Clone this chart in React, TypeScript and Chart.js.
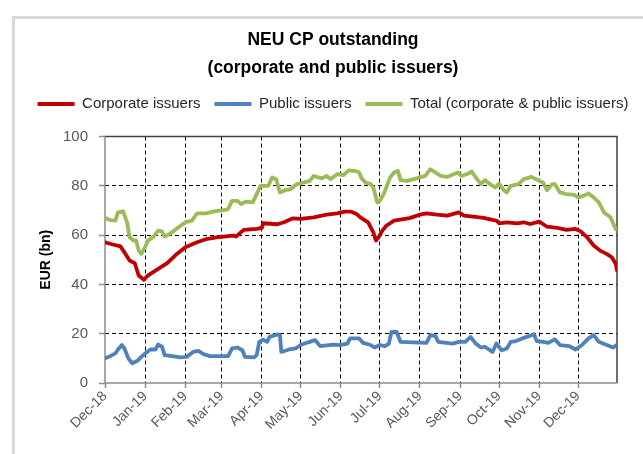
import React, { useEffect, useRef } from "react";
import { Chart, registerables } from "chart.js";

Chart.register(...registerables);

// Day offsets from 1 Dec 2018 for the month ticks
const monthDays = [0, 31, 62, 90, 121, 151, 182, 212, 243, 274, 304, 335, 365];
const monthLabels = [
  "Dec-18", "Jan-19", "Feb-19", "Mar-19", "Apr-19", "May-19", "Jun-19",
  "Jul-19", "Aug-19", "Sep-19", "Oct-19", "Nov-19", "Dec-19",
];
const lastDay = 395;
const yTickValues = [0, 20, 40, 60, 80, 100];

const titleLines = ["NEU CP outstanding", "(corporate and public issuers)"];
const seriesNames = ["Corporate issuers", "Public issuers", "Total (corporate & public issuers)"];
const seriesColors = ["#c00000", "#4f81bd", "#9bbb59"];

// [day offset, EUR bn]
const corporate: [number, number][] = [
  [0, 57.1], [6, 56.2], [12, 55.4], [15, 53], [19, 49.7], [23, 48.6], [26, 43.6], [30, 41.9], [33, 43.6], [41, 46.3],
  [48, 48.6], [54, 51.7], [62, 55.1], [71, 57.1], [79, 58.5], [86, 59.1], [99, 59.8], [101, 59.4], [107, 62.1], [117, 62.5],
  [121, 62.9], [122, 64.8], [133, 64.4], [138, 65.2], [145, 66.8], [151, 66.6], [161, 67.2], [171, 68.3], [179, 68.8], [185, 69.5],
  [190, 69.5], [194, 68.6], [197, 67.2], [203, 65.2], [207, 61.1], [209, 57.8], [211, 59.1], [214, 61.8], [217, 63.8], [223, 65.9],
  [235, 66.9], [243, 68.3], [248, 68.8], [256, 68.3], [264, 67.9], [273, 69.2], [277, 67.9], [284, 67.5], [292, 67], [300, 66.1],
  [302, 65.9], [304, 64.8], [310, 65.2], [318, 64.8], [323, 65.2], [328, 64.5], [335, 65.5], [341, 63.4], [349, 62.9], [356, 62.1],
  [363, 62.5], [367, 61.5], [372, 59.1], [377, 55.8], [382, 53.7], [387, 52.4], [391, 51], [394, 48.4], [395, 45.7],
];

const publicIssuers: [number, number][] = [
  [0, 10], [4, 10.9], [8, 12], [10, 13.6], [13, 15.4], [15, 14], [18, 10], [21, 8], [25, 9], [28, 10.6],
  [31, 12], [35, 13.6], [39, 13.6], [41, 15.6], [44, 14.7], [46, 11.3], [52, 10.9], [58, 10.4], [63, 10.6], [68, 12.6],
  [72, 13], [76, 11.7], [81, 10.9], [95, 10.9], [98, 14], [102, 14.4], [106, 13.3], [108, 10.6], [115, 10.4], [117, 11.3],
  [119, 16.7], [122, 17.6], [125, 16.7], [127, 18.7], [133, 19.7], [135, 19.4], [136, 12.6], [142, 13.6], [147, 14], [151, 15.4],
  [154, 16], [158, 16.7], [162, 17.4], [166, 15], [176, 15.6], [181, 15.4], [187, 16], [189, 18.1], [196, 18.1], [199, 16.3],
  [205, 15.4], [208, 14.4], [212, 15.4], [216, 15], [219, 16], [221, 20.7], [225, 20.7], [228, 16.7], [248, 16.3], [251, 19.4],
  [255, 19], [257, 16.7], [268, 16], [273, 16.7], [278, 16.7], [282, 18.7], [286, 16], [290, 14.4], [293, 14.7], [299, 12.6],
  [302, 16], [306, 13.3], [310, 14], [313, 16.7], [317, 17], [322, 18.1], [327, 19], [331, 19.8], [333, 17], [338, 16.7],
  [342, 16.3], [347, 17.7], [351, 15.4], [358, 15], [363, 13.6], [368, 15.4], [373, 18.1], [377, 19.4], [381, 16.7], [389, 15],
  [392, 14.4], [395, 15.5],
];

const total: [number, number][] = [
  [0, 66.9], [4, 66.1], [8, 65.9], [10, 69.2], [14, 69.6], [17, 65.2], [19, 59.1], [22, 57.8], [24, 57.8], [26, 53.7],
  [28, 52.4], [31, 55.1], [33, 57.8], [37, 59.1], [41, 61.8], [44, 61.5], [46, 59.4], [50, 60.5], [55, 62.5], [62, 65.2],
  [67, 65.9], [71, 68.8], [78, 68.8], [84, 69.6], [93, 70.2], [95, 70.6], [98, 73.9], [102, 73.9], [105, 72.6], [109, 73.6],
  [114, 73.3], [117, 76.6], [120, 80], [126, 80], [129, 83.4], [132, 82.7], [135, 77.3], [139, 78.2], [143, 78.6], [148, 80.7],
  [153, 81.3], [158, 82], [161, 84], [167, 83], [171, 84], [174, 82.7], [179, 84.7], [184, 84.3], [188, 86.3], [193, 86],
  [196, 85.5], [198, 83], [201, 81.3], [205, 80.7], [207, 79.3], [210, 73.3], [212, 73.9], [215, 76.6], [217, 79.3], [220, 83.4],
  [223, 85.4], [226, 86.1], [228, 82.3], [233, 82], [241, 83.1], [247, 84], [251, 86.7], [255, 85.4], [259, 84], [264, 83.6],
  [272, 85.4], [275, 84], [279, 84.7], [283, 85.8], [286, 83.4], [290, 80.7], [293, 82.3], [297, 80.7], [301, 79.3], [304, 80.9],
  [308, 78], [310, 77.3], [313, 80], [319, 80.7], [323, 82.7], [329, 83.6], [335, 82], [338, 81.3], [341, 78.2], [345, 80.7],
  [347, 80.7], [351, 77.3], [356, 76.6], [362, 76.3], [365, 75.3], [369, 75.9], [373, 76.9], [377, 75.3], [381, 73.3], [385, 69.2],
  [390, 67.2], [394, 62.5],
];

const FONT = "'Liberation Sans', Arial, sans-serif";
const TRANSPARENT = "rgba(0,0,0,0)";

export default function App() {
  const canvasRef = useRef<HTMLCanvasElement | null>(null);

  useEffect(() => {
    const canvas = canvasRef.current;
    if (!canvas) return;
    const toPoints = (arr: [number, number][]) => arr.map(([x, y]) => ({ x, y }));
    const allSeries = [corporate, publicIssuers, total];

    const plotFrame = {
      id: "plotFrame",
      beforeDatasetsDraw(chart: any) {
        const { ctx, chartArea } = chart;
        const { left, right, top, bottom } = chartArea;
        ctx.save();
        ctx.lineWidth = 1.5;
        ctx.strokeStyle = "#404040";
        ctx.beginPath();
        ctx.moveTo(left, top);
        ctx.lineTo(right, top);
        ctx.lineTo(right, bottom);
        ctx.stroke();
        ctx.strokeStyle = "#8c8c8c";
        ctx.beginPath();
        ctx.moveTo(left, top);
        ctx.lineTo(left, bottom);
        ctx.lineTo(right, bottom);
        ctx.stroke();
        ctx.restore();
      },
    };

    const chart = new Chart(canvas, {
      type: "line",
      data: {
        datasets: allSeries.map((s, i) => ({
          label: seriesNames[i],
          data: toPoints(s),
          borderColor: seriesColors[i],
          backgroundColor: seriesColors[i],
          borderWidth: 3.8,
          pointRadius: 0,
          tension: 0,
          fill: false,
          borderJoinStyle: "round",
          borderCapStyle: "round",
          xAxisID: "x",
          yAxisID: "y",
        })),
      },
      options: {
        animation: false,
        responsive: false,
        events: [],
        layout: { padding: { left: 23, right: 0, top: 0, bottom: 0 } },
        plugins: {
          title: {
            display: true,
            text: titleLines,
            color: "#000",
            font: { family: FONT, size: 17.5, weight: "bold", lineHeight: 1.6 },
            padding: { top: 26, bottom: 0.5 },
          },
          legend: {
            display: true,
            position: "top",
            labels: {
              boxWidth: 37,
              boxHeight: 4,
              padding: 14,
              color: "#262626",
              font: { family: FONT, size: 15 },
              generateLabels: (c: any) =>
                c.data.datasets.map((d: any, i: number) => ({
                  text: d.label,
                  fillStyle: seriesColors[i],
                  strokeStyle: seriesColors[i],
                  lineWidth: 0,
                  hidden: false,
                  datasetIndex: i,
                  fontColor: "#262626",
                })),
            },
          },
          tooltip: { enabled: false },
        },
        scales: {
          x: {
            type: "linear",
            position: "bottom",
            min: 0,
            max: lastDay,
            afterBuildTicks: (s: any) => {
              s.ticks = monthDays.map((v) => ({ value: v }));
            },
            afterFit: (s: any) => {
              s.height = 71;
            },
            ticks: {
              autoSkip: false,
              maxRotation: 45,
              minRotation: 45,
              padding: 0,
              color: "#595959",
              font: { family: FONT, size: 14 },
              callback: (v: any) => {
                const idx = monthDays.indexOf(Number(v));
                return idx >= 0 ? monthLabels[idx] : "";
              },
            },
            grid: {
              color: (ctx: any) => (ctx.tick && ctx.tick.value === 0 ? TRANSPARENT : "#000"),
              lineWidth: 1,
              tickLength: 5,
              tickColor: "#8c8c8c",
              tickWidth: 1.5,
              tickBorderDash: [],
            },
            border: { display: false, dash: [4, 3] },
          },
          xTopSpacer: {
            type: "linear",
            position: "top",
            display: true,
            min: 0,
            max: lastDay,
            afterFit: (s: any) => {
              s.height = 15;
            },
            ticks: { display: false },
            grid: { display: false, drawOnChartArea: false, drawTicks: false },
            border: { display: false },
          },
          y: {
            position: "left",
            min: 0,
            max: 100,
            afterBuildTicks: (s: any) => {
              s.ticks = yTickValues.map((v) => ({ value: v }));
            },
            afterFit: (s: any) => {
              s.width = 82;
            },
            ticks: {
              padding: 11,
              color: "#595959",
              font: { family: FONT, size: 15 },
            },
            grid: {
              color: (ctx: any) =>
                ctx.tick && (ctx.tick.value === 0 || ctx.tick.value === 100) ? TRANSPARENT : "#000",
              lineWidth: 1,
              tickLength: 6,
              tickColor: "#8c8c8c",
              tickWidth: 1.5,
              tickBorderDash: [],
            },
            border: { display: false, dash: [4, 3] },
            title: {
              display: true,
              text: "EUR (bn)",
              color: "#000",
              font: { family: FONT, size: 14, weight: "bold" },
              padding: { top: 14.6, bottom: 0 },
            },
          },
          yRight: {
            position: "right",
            display: true,
            min: 0,
            max: 100,
            afterFit: (s: any) => {
              s.width = 26;
            },
            ticks: { display: false },
            grid: { display: false, drawOnChartArea: false, drawTicks: false },
            border: { display: false },
          },
        },
      },
      plugins: [plotFrame],
    } as any);

    return () => chart.destroy();
  }, []);

  return (
    <div
      style={{
        position: "fixed",
        left: 0,
        top: 0,
        width: 643,
        height: 454,
        overflow: "hidden",
        background: "#fff",
      }}
    >
      <div
        style={{
          position: "absolute",
          left: 12,
          top: 16,
          width: 700,
          height: 500,
          border: "3px solid #d9d9d9",
        }}
      />
      <canvas
        ref={canvasRef}
        width={643}
        height={454}
        style={{ position: "absolute", left: 0, top: 0, width: 643, height: 454 }}
      />
    </div>
  );
}
